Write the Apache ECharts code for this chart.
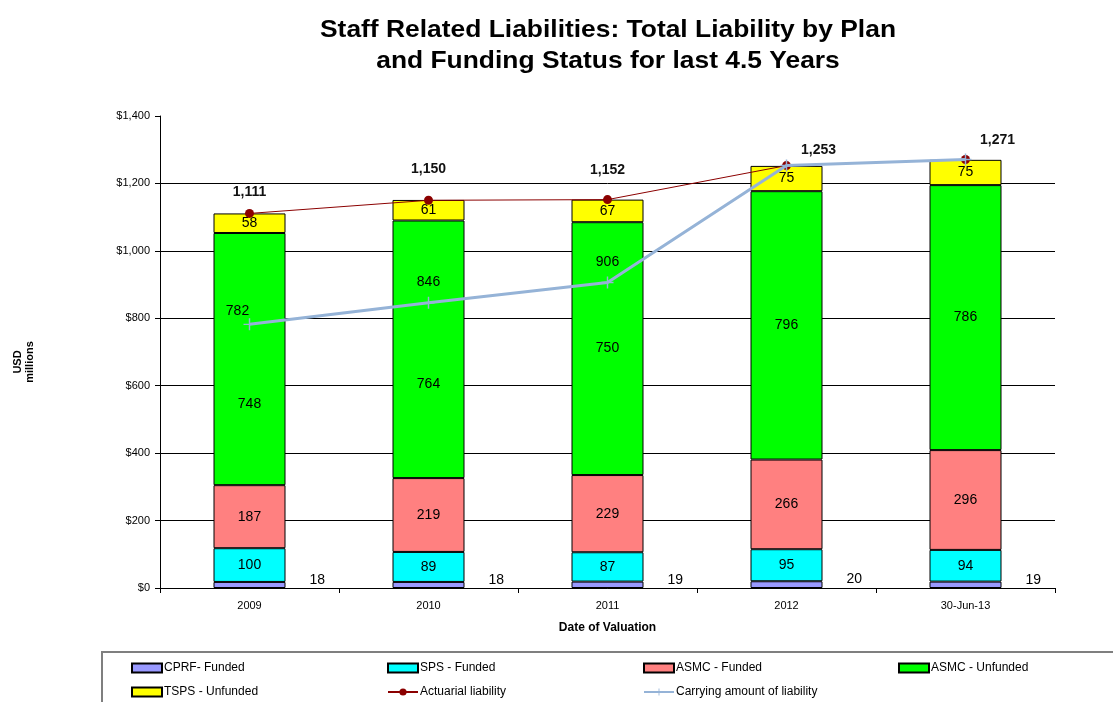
<!DOCTYPE html>
<html>
<head>
<meta charset="utf-8">
<script src="https://cdn.jsdelivr.net/npm/echarts@6/dist/echarts.min.js"></script>
<style>html,body{margin:0;padding:0;background:#fff;}#chart{width:1113px;height:702px;}</style>
</head>
<body>
<div id="chart"></div>
<script>
const categories = ['2009', '2010', '2011', '2012', '30-Jun-13'];
const cprfFunded = [18, 18, 19, 20, 19];
const spsFunded = [100, 89, 87, 95, 94];
const asmcFunded = [187, 219, 229, 266, 296];
const asmcUnfunded = [748, 764, 750, 796, 786];
const tspsUnfunded = [58, 61, 67, 75, 75];
const actuarialLiability = [1111, 1150, 1152, 1253, 1271];
const carryingAmount = [782, 846, 906, 1253, 1271];
const carryingLabelShown = [true, true, true, false, false];

const FONT = '"Liberation Sans", Arial, sans-serif';
const fmt = v => Number(v).toLocaleString('en-US');

const chart = echarts.init(document.getElementById('chart'));

const barBase = {
  type: 'bar', stack: 'total', barWidth: 72,
  itemStyle: { borderColor: '#000', borderWidth: 1 },
  label: { show: true, position: 'inside', color: '#000', fontSize: 14, fontFamily: FONT },
  emphasis: { disabled: true }
};

const greenOffsets = [[0, 45], [0, 35], [0, 0], [0, 0], [0, 0]];
const actOffsets = [[0, 0], [0, -10], [0, -8], [32, 6], [32, 2]];
const carryOffsets = [[-12, 4], [0, -4], [0, -3], [0, 0], [0, 0]];

const legendNames = [
  ['CPRF- Funded', 131, 662], ['SPS - Funded', 387, 662], ['ASMC - Funded', 643, 662], ['ASMC - Unfunded', 898, 662],
  ['TSPS - Unfunded', 131, 686], ['Actuarial liability', 387, 686], ['Carrying amount of liability', 643, 686]
];

chart.setOption({
  animation: false,
  textStyle: { fontFamily: FONT },
  grid: { left: 160, right: 58, top: 116, bottom: 114 },
  graphic: [
    { type: 'text', x: 608, y: 18, scaleX: 1.1, style: { text: 'Staff Related Liabilities: Total Liability by Plan', font: 'bold 24px ' + FONT, fill: '#000', textAlign: 'center', textVerticalAlign: 'top' } },
    { type: 'text', x: 608, y: 49, scaleX: 1.1, style: { text: 'and Funding Status for last 4.5 Years', font: 'bold 24px ' + FONT, fill: '#000', textAlign: 'center', textVerticalAlign: 'top' } },
    { type: 'rect', shape: { x: 102, y: 652, width: 1100, height: 80 }, style: { fill: 'none', stroke: '#7f7f7f', lineWidth: 2 } }
  ],
  legend: legendNames.map(([n, l, t], i) => ({
    data: [n], left: l, top: t, padding: 0, itemWidth: 30, itemHeight: 9, selectedMode: false,
    icon: (n === 'Actuarial liability' || n === 'Carrying amount of liability') ? undefined : 'rect',
    textStyle: { fontSize: 12, color: '#000', fontFamily: FONT, padding: [0, 0, 0, -3] }
  })),
  xAxis: {
    type: 'category', data: categories,
    name: 'Date of Valuation', nameLocation: 'middle', nameGap: 34,
    nameTextStyle: { fontWeight: 'bold', fontSize: 12, color: '#000' },
    axisLine: { lineStyle: { color: '#000', width: 1 } },
    axisTick: { show: true, length: 5, lineStyle: { color: '#000' } },
    axisLabel: { fontSize: 11, color: '#000', margin: 12 }
  },
  yAxis: {
    type: 'value', min: 0, max: 1400, interval: 200,
    name: 'USD\nmillions', nameLocation: 'middle', nameGap: 124, nameRotate: 90,
    nameTextStyle: { fontWeight: 'bold', fontSize: 11, color: '#000', lineHeight: 12, padding: [0, 20, 0, 0] },
    axisLine: { show: true, lineStyle: { color: '#000', width: 1 } },
    axisTick: { show: true, length: 5, lineStyle: { color: '#000' } },
    axisLabel: { fontSize: 11, color: '#000', margin: 10, formatter: v => '$' + fmt(v) },
    splitLine: { show: true, showMaxLine: false, lineStyle: { color: '#000', width: 1 } }
  },
  series: [
    Object.assign({}, barBase, {
      name: 'CPRF- Funded', data: cprfFunded, itemStyle: { color: '#9999FF', borderColor: '#000', borderWidth: 1 },
      label: { show: true, position: 'right', distance: 24, color: '#000', fontSize: 14, fontFamily: FONT, offset: [0, -5] }
    }),
    Object.assign({}, barBase, { name: 'SPS - Funded', data: spsFunded, itemStyle: { color: '#00FFFF', borderColor: '#000', borderWidth: 1 } }),
    Object.assign({}, barBase, { name: 'ASMC - Funded', data: asmcFunded, itemStyle: { color: '#FF8080', borderColor: '#000', borderWidth: 1 } }),
    Object.assign({}, barBase, {
      name: 'ASMC - Unfunded', itemStyle: { color: '#00FF00', borderColor: '#000', borderWidth: 1 },
      data: asmcUnfunded.map((v, i) => ({ value: v, label: { offset: greenOffsets[i] } }))
    }),
    Object.assign({}, barBase, { name: 'TSPS - Unfunded', data: tspsUnfunded, itemStyle: { color: '#FFFF00', borderColor: '#000', borderWidth: 1 } }),
    {
      name: 'Actuarial liability', type: 'line', z: 5,
      data: actuarialLiability.map((v, i) => ({ value: v, label: { offset: actOffsets[i] } })),
      symbol: 'circle', symbolSize: 9,
      itemStyle: { color: '#8B0000' }, lineStyle: { color: '#8B0000', width: 1 },
      label: { show: true, position: 'top', distance: 10, fontWeight: 'bold', fontSize: 14, color: '#111', formatter: p => fmt(p.value) },
      emphasis: { disabled: true }
    },
    {
      name: 'Carrying amount of liability', type: 'line', z: 6,
      data: carryingAmount.map((v, i) => ({ value: v, label: { show: carryingLabelShown[i], offset: carryOffsets[i] } })),
      symbol: 'path://M0,4.4 L10,4.4 L10,5.6 L0,5.6 Z M4.4,0 L5.6,0 L5.6,10 L4.4,10 Z', symbolSize: 12,
      itemStyle: { color: '#95B3D7' }, lineStyle: { color: '#95B3D7', width: 3 },
      label: { show: true, position: 'top', distance: 4, fontSize: 14, color: '#000' },
      emphasis: { disabled: true }
    }
  ]
});
</script>
</body>
</html>
